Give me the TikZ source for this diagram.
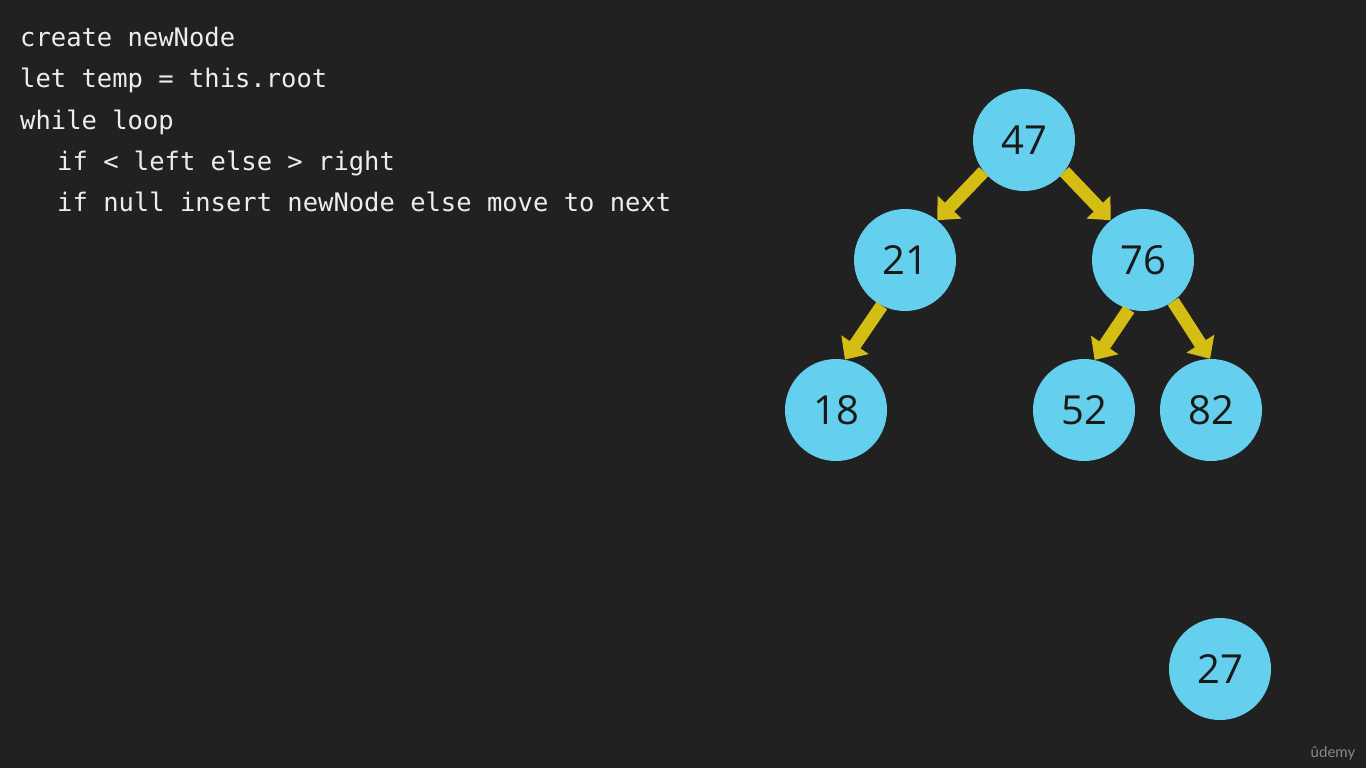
\documentclass[tikz,border=0pt]{standalone}
\usepackage{fontspec}
\setmonofont{DejaVu Sans Mono}
\newfontfamily\numfont{Open Sans}
\newfontfamily\logofont{Lato}
\usetikzlibrary{arrows.meta}
\definecolor{bg}{HTML}{212121}
\definecolor{nodefill}{HTML}{65CFEE}
\definecolor{arrowc}{HTML}{D4BE14}
\definecolor{codec}{HTML}{EDEDED}
\definecolor{logoc}{HTML}{8A8A8A}
\begin{document}
\begin{tikzpicture}[x=1pt,y=-1pt,
  bst/.style={circle,fill=nodefill,minimum size=102pt,inner sep=0pt,text=black!90,font=\numfont\fontsize{40}{42}\selectfont},
  codeline/.style={anchor=base west,inner sep=0pt,text=codec,font=\ttfamily\fontsize{25.5}{28}\selectfont},
  link/.style={draw=arrowc,line width=13pt,-{Triangle[length=18pt,width=32pt]}}]
\fill[bg] (0,0) rectangle (1366,768);
\useasboundingbox (0,0) rectangle (1366,768);
\node[codeline] (l1) at (20,47) {create newNode};
\node[codeline] (l2) at (20,88) {let temp = this.root};
\node[codeline] (l3) at (20,129) {while loop};
\node[codeline] (l4) at (57,170) {if < left else > right};
\node[codeline] (l5) at (57,211) {if null insert newNode else move to next};
\node[bst] (n47) at (1024,140) {47};
\node[bst] (n21) at (905,260) {21};
\node[bst] (n76) at (1143,260) {76};
\node[bst] (n18) at (836,410) {18};
\node[bst] (n52) at (1084,410) {52};
\node[bst] (n82) at (1211,410) {82};
\node[bst] (n27) at (1220,669) {27};
\draw[link] (n47.218) -- (n21.51);
\draw[link] (n47.322) -- (n76.129);
\draw[link] (n21.243) -- (n18.80);
\draw[link] (n76.254) -- (n52.78);
\draw[link] (n76.306) -- (n82.91);
\node[anchor=base,inner sep=0pt,text=logoc,font=\logofont\fontsize{15}{17}\selectfont] (logo) at (1333,757) {ûdemy};
\end{tikzpicture}
\end{document}
